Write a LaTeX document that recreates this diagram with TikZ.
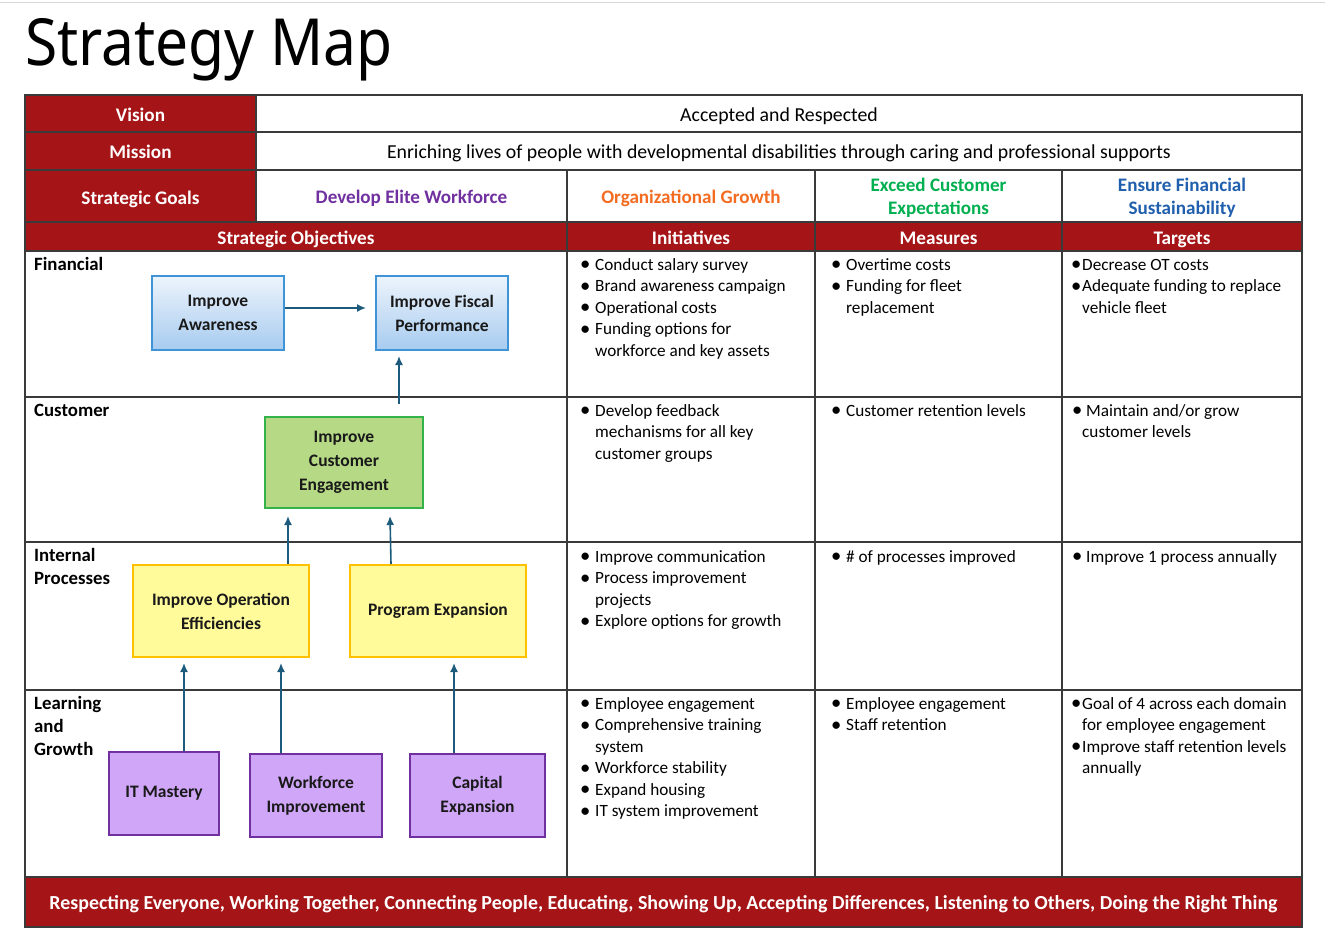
\documentclass[tikz,border=0pt]{standalone}
\usepackage{fontspec}
\setmainfont{Carlito}
\newfontfamily\titlefont{Noto Sans}
\usetikzlibrary{arrows.meta}
\definecolor{smred}{HTML}{A51416}
\definecolor{gridc}{HTML}{3A3A3A}
\definecolor{arrc}{HTML}{1D5B7C}
\definecolor{gpurple}{HTML}{7030A0}
\definecolor{gorange}{HTML}{F36C21}
\definecolor{ggreen}{HTML}{00B050}
\definecolor{gblue}{HTML}{1F5FAD}
\definecolor{bluetop}{HTML}{EDF4FC}
\definecolor{bluebot}{HTML}{A7CBEF}
\definecolor{blueedge}{HTML}{3E94D6}
\definecolor{greenfill}{HTML}{B5D985}
\definecolor{greenedge}{HTML}{33B34A}
\definecolor{yelfill}{HTML}{FFFB9A}
\definecolor{yeledge}{HTML}{FFC000}
\definecolor{purfill}{HTML}{CFA6F8}
\definecolor{puredge}{HTML}{7030A0}
\newcommand\tl[2][l]{\begin{tabular}[t]{@{}#1@{}}#2\end{tabular}}
\newcommand\bw{13pt}
\newcommand\bi{\makebox[\bw][l]{\hspace*{-2pt}\raisebox{-0.5pt}{\scalebox{1.2}{\textbullet}}}}
\newcommand\bh{\hspace*{\bw}}
\tikzset{
  grid/.style={draw=gridc, line width=1.2pt},
  hdr/.style={text=white, font=\fontsize{19.2}{23}\selectfont\bfseries, inner sep=0, anchor=base},
  goal/.style={font=\fontsize{19.1}{23}\selectfont\bfseries, inner sep=0, anchor=base},
  plain/.style={font=\fontsize{19.8}{23}\selectfont, inner sep=0, anchor=base},
  rowlab/.style={font=\fontsize{18.8}{23}\selectfont\bfseries, inner sep=0, anchor=base west},
  cell/.style={font=\fontsize{17.2}{21.5}\selectfont, inner sep=0, anchor=base west},
  obj/.style={line width=2pt, inner sep=0, align=center, text=black!90,
              font=\fontsize{17.5}{24}\selectfont\bfseries},
  bluebox/.style={obj, draw=blueedge, top color=bluetop, bottom color=bluebot},
  greenbox/.style={obj, draw=greenedge, fill=greenfill},
  yelbox/.style={obj, draw=yeledge, fill=yelfill},
  purbox/.style={obj, draw=puredge, fill=purfill},
  arr/.style={draw=arrc, line width=1.6pt, -{Latex[length=9pt,width=8pt]}},
}
\begin{document}
\begin{tikzpicture}[x=1pt,y=-1pt]
\useasboundingbox (0,0) rectangle (1325,928);
\fill[white] (0,0) rectangle (1325,928);
\draw[black!15, line width=1pt] (0,3) -- (1325,3);

% title
\node[inner sep=0, anchor=base west] (title) at (25,66)
  {\resizebox{367pt}{\height}{\titlefont\fontsize{65}{70}\selectfont Strategy Map}};

% red fills
\fill[smred] (25,95) rectangle (256,222);
\fill[smred] (25,222) rectangle (1302,251);
\fill[smred] (25,877) rectangle (1302,927);

% grid
\draw[grid] (25,95) rectangle (1302,927);
\foreach \yy in {132,170,222,251,397,542,690,877}
  \draw[grid] (25,\yy) -- (1302,\yy);
\draw[grid] (256,95) -- (256,222);
\foreach \xx in {567,815,1062}
  \draw[grid] (\xx,170) -- (\xx,877);

% header texts
\node[hdr] (vision) at (140.5,121.5) {Vision};
\node[hdr] (mission) at (140.5,158.5) {Mission};
\node[hdr] (goals) at (140.5,204.5) {Strategic Goals};
\node[plain] (visiontxt) at (779,121.5) {Accepted and Respected};
\node[plain] (missiontxt) at (779,158.5) {Enriching lives of people with developmental disabilities through caring and professional supports};
\node[goal, text=gpurple] (g1) at (411.5,204) {Develop Elite Workforce};
\node[goal, text=gorange] (g2) at (691,204) {Organizational Growth};
\node[goal, text=ggreen] (g3) at (938.5,192) {\tl[c]{Exceed Customer\\Expectations}};
\node[goal, text=gblue] (g4) at (1182,192) {\tl[c]{Ensure Financial\\Sustainability}};
\node[hdr] (hobj) at (296,244) {Strategic Objectives};
\node[hdr] (hini) at (691,244) {Initiatives};
\node[hdr] (hmea) at (938.5,244) {Measures};
\node[hdr] (htar) at (1182,244) {Targets};

% row labels
\node[rowlab] (lfin) at (34,270.5) {Financial};
\node[rowlab] (lcus) at (34,416.5) {Customer};
\node[rowlab] (lint) at (34,561.5) {\tl{Internal\\Processes}};
\node[rowlab] (llg) at (34,709.5) {\tl{Learning\\and\\Growth}};

% cells
\node[cell] (fini) at (582,270) {\tl{\bi Conduct salary survey\\\bi Brand awareness campaign\\\bi Operational costs\\\bi Funding options for\\\bh workforce and key assets}};
\node[cell] (fmea) at (833,270) {\tl{\bi Overtime costs\\\bi Funding for fleet\\\bh replacement}};
\renewcommand\bw{9pt}
\node[cell] (ftar) at (1073,270) {\tl{\bi Decrease OT costs\\\bi Adequate funding to replace\\\bh vehicle fleet}};
\renewcommand\bw{13pt}
\node[cell] (cini) at (582,416) {\tl{\bi Develop feedback\\\bh mechanisms for all key\\\bh customer groups}};
\node[cell] (cmea) at (833,416) {\tl{\bi Customer retention levels}};
\renewcommand\bw{12pt}
\node[cell] (ctar) at (1074,416) {\tl{\bi Maintain and/or grow\\\hspace*{8pt}customer levels}};
\renewcommand\bw{13pt}
\node[cell] (iini) at (582,562) {\tl{\bi Improve communication\\\bi Process improvement\\\bh projects\\\bi Explore options for growth}};
\node[cell] (imea) at (833,562) {\tl{\bi \# of processes improved}};
\renewcommand\bw{12pt}
\node[cell] (itar) at (1074,562) {\tl{\bi Improve 1 process annually}};
\renewcommand\bw{13pt}
\node[cell] (lini) at (582,709) {\tl{\bi Employee engagement\\\bi Comprehensive training\\\bh system\\\bi Workforce stability\\\bi Expand housing\\\bi IT system improvement}};
\node[cell] (lmea) at (833,709) {\tl{\bi Employee engagement\\\bi Staff retention}};
\renewcommand\bw{9pt}
\node[cell] (ltar) at (1073,709) {\tl{\bi Goal of 4 across each domain\\\bh for employee engagement\\\bi Improve staff retention levels\\\bh annually}};
\renewcommand\bw{13pt}

% footer
\node[hdr, font=\fontsize{19.9}{22}\selectfont\bfseries] (values) at (663.5,909)
  {Respecting Everyone, Working Together, Connecting People, Educating, Showing Up, Accepting Differences, Listening to Others, Doing the Right Thing};

% objective boxes
\node[bluebox, minimum width=132pt, minimum height=74pt] (aw) at (218,313) {Improve\\Awareness};
\node[bluebox, minimum width=132pt, minimum height=74pt] (fp) at (442,313) {Improve Fiscal\\Performance};
\node[greenbox, minimum width=158pt, minimum height=91pt] (ce) at (344,462.5) {Improve\\Customer\\Engagement};
\node[yelbox, minimum width=176pt, minimum height=92pt] (ioe) at (221,611) {Improve Operation\\Efficiencies};
\node[yelbox, minimum width=176pt, minimum height=92pt] (pe) at (438,611) {Program Expansion};
\node[purbox, minimum width=110pt, minimum height=83pt] (it) at (164,793.5) {IT Mastery};
\node[purbox, minimum width=132pt, minimum height=83pt] (wi) at (316,795.5) {Workforce\\Improvement};
\node[purbox, minimum width=135pt, minimum height=83pt] (cx) at (477.5,795.5) {Capital\\Expansion};

% connectors
\draw[arr] ([yshift=5pt]aw.east) -- ([xshift=-9pt,yshift=5pt]fp.west);
\draw[arr] ([xshift=55pt,yshift=12pt]ce.north) -- ([xshift=-43pt,yshift=-5pt]fp.south);
\draw[arr] ([xshift=67pt]ioe.north) -- ([xshift=-56pt,yshift=-7pt]ce.south);
\draw[arr] ([xshift=-47pt]pe.north) -- ([xshift=46pt,yshift=-7pt]ce.south);
\draw[arr] ([xshift=20pt]it.north) -- ([xshift=-37pt,yshift=-5pt]ioe.south);
\draw[arr] ([xshift=-35pt]wi.north) -- ([xshift=60pt,yshift=-5pt]ioe.south);
\draw[arr] ([xshift=-23.5pt]cx.north) -- ([xshift=16pt,yshift=-5pt]pe.south);
\end{tikzpicture}
\end{document}
